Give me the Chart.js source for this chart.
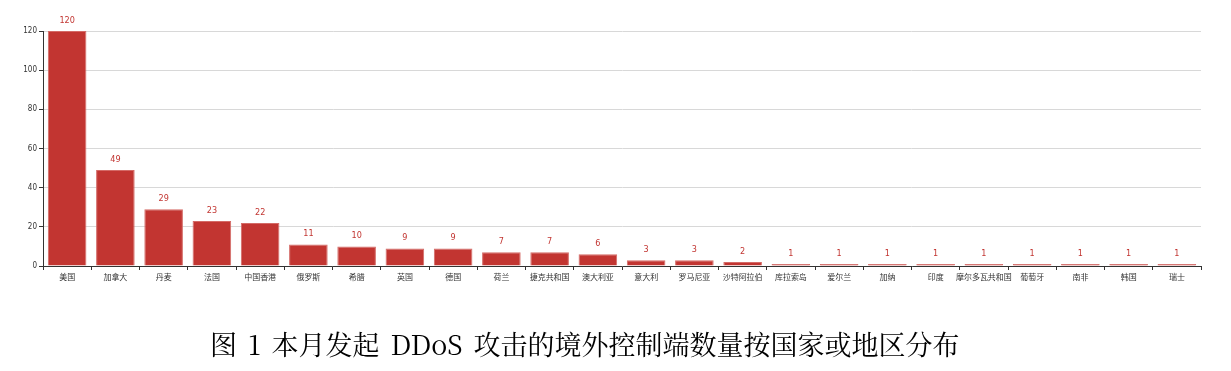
<!DOCTYPE html>
<html>
<head>
<meta charset="utf-8">
<script src="https://cdn.jsdelivr.net/npm/chart.js@4"></script>
<style>
  body { margin: 0; background: #fff; }
  #wrap { position: relative; width: 1231px; height: 371px; }
  #caption {
    position: absolute; left: 210px; top: 324px;
    font-family: "Noto Serif CJK SC", "Noto Sans CJK SC", serif;
    font-size: 27px; color: #000; white-space: nowrap; word-spacing: 4px;
  }
</style>
</head>
<body>
<div id="wrap">
  <canvas id="canvas" width="1231" height="371"></canvas>
  <div id="caption">图 1 本月发起 DDoS 攻击的境外控制端数量按国家或地区分布</div>
</div>
<script>
const categories = ['美国', '加拿大', '丹麦', '法国', '中国香港', '俄罗斯', '希腊', '英国', '德国', '荷兰', '捷克共和国', '澳大利亚', '意大利', '罗马尼亚', '沙特阿拉伯', '库拉索岛', '爱尔兰', '加纳', '印度', '摩尔多瓦共和国', '葡萄牙', '南非', '韩国', '瑞士'];
const counts = [120, 49, 29, 23, 22, 11, 10, 9, 9, 7, 7, 6, 3, 3, 2, 1, 1, 1, 1, 1, 1, 1, 1, 1];
const yTicks = [0, 20, 40, 60, 80, 100, 120];

// value labels above each bar
const valueLabels = {
    id: 'valueLabels',
    afterDatasetsDraw(chart) {
        const c = chart.ctx;
        const meta = chart.getDatasetMeta(0);
        c.save();
        c.fillStyle = '#c23531';
        c.font = '9px "DejaVu Sans Condensed", sans-serif';
        c.textAlign = 'center';
        c.textBaseline = 'bottom';
        meta.data.forEach((bar, i) => {
            c.fillText(String(counts[i]), bar.x, bar.y - 6);
        });
        c.restore();
    }
};

const ctx = document.getElementById('canvas').getContext('2d');
const myChart = new Chart(ctx, {
    type: 'bar',
    data: {
        labels: categories,
        datasets: [{
            data: counts,
            backgroundColor: '#c23531',
            borderColor: '#d46a66',
            borderWidth: 1,
            categoryPercentage: 0.8,
            barPercentage: 1
        }]
    },
    plugins: [valueLabels],
    options: {
        responsive: false,
        animation: false,
        layout: { padding: { top: 31, right: 30, bottom: 75, left: 0 } },
        plugins: {
            legend: { display: false },
            tooltip: { enabled: false }
        },
        scales: {
            x: {
                afterFit(scale) { scale.height = 30; },
                grid: {
                    display: true,
                    drawOnChartArea: false,
                    offset: true,
                    color: '#333',
                    tickLength: 4
                },
                border: { color: '#333', width: 1 },
                ticks: {
                    color: '#333',
                    autoSkip: false,
                    maxRotation: 0,
                    font: { size: 8, family: '"Noto Sans CJK SC", sans-serif' },
                    padding: 2
                }
            },
            y: {
                min: 0,
                max: 120,
                afterFit(scale) { scale.width = 43; },
                afterBuildTicks(scale) { scale.ticks = yTicks.map(v => ({ value: v })); },
                grid: { color: '#d8d8d8', tickLength: 4, tickColor: '#333' },
                border: { color: '#333', width: 1 },
                ticks: {
                    color: '#333',
                    font: { size: 8, family: '"DejaVu Sans Condensed", sans-serif' },
                    padding: 2
                }
            }
        }
    }
});
</script>
</body>
</html>
